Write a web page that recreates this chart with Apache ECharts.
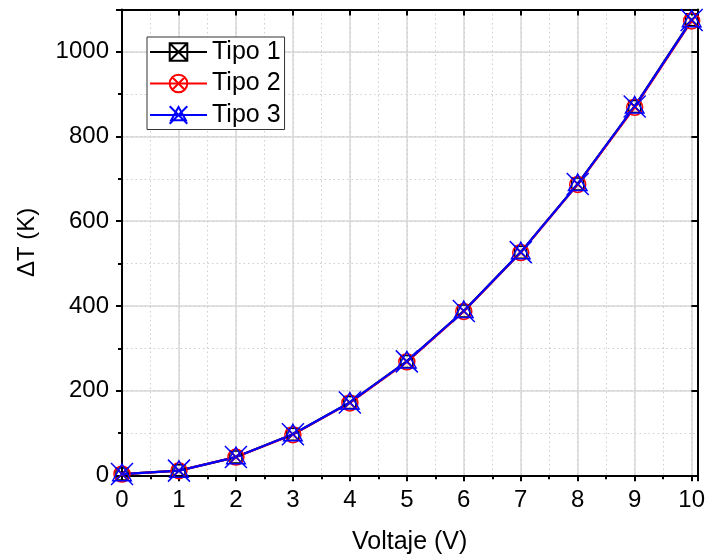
<!DOCTYPE html>
<html>
<head>
<meta charset="utf-8">
<script src="https://cdn.jsdelivr.net/npm/echarts@6/dist/echarts.min.js"></script>
<style>html,body{margin:0;padding:0;background:#fff}#c{width:708px;height:560px}</style>
</head>
<body>
<div id="c"></div>
<script>
const voltage = [0, 1, 2, 3, 4, 5, 6, 7, 8, 9, 10];
const tipo1 = [3, 11, 43, 97, 172, 269, 388, 527, 688, 871, 1076];
const tipo2 = [3, 11, 43, 96, 171, 268, 387, 526, 687, 869, 1073];
const tipo3 = [3, 11, 43, 97, 172, 269, 388, 527, 688, 871, 1075];
const seriesNames = ['Tipo 1', 'Tipo 2', 'Tipo 3'];
const xTitle = 'Voltaje (V)';
const yTitle = 'ΔT (K)';

const FONT = "'Liberation Sans', Arial, sans-serif";
const symSquareX = 'path://M0,0L10,0L10,10L0,10Z M0,0L10,10 M10,0L0,10';
const symCircleX = 'path://M0,5A5,5,0,1,1,10,5A5,5,0,1,1,0,5Z M1.46,1.46L8.54,8.54 M8.54,1.46L1.46,8.54';
const symStar = 'path://M5,0.5L9.2,8L0.8,8Z M0,0L10,10 M10,0L0,10';

const majorGrid = {show: true, lineStyle: {color: '#d8d8d8', width: 1.5, type: 'solid'}};
const minorGrid = {show: true, lineStyle: {color: '#cfcfcf', width: 1, type: [1.5, 3]}};
const frame = {show: true, onZero: false, lineStyle: {color: '#000', width: 2}};

function xAx(position, interval, tickLen, inside, labels, split, line) {
  return {
    type: 'value', min: 0, max: 10.1, interval: interval, position: position,
    axisLine: line ? frame : {show: false},
    axisTick: {show: true, inside: inside, length: tickLen, lineStyle: {color: '#000', width: 2}},
    axisLabel: labels ? {show: true, margin: 13, color: '#000', fontSize: 24, fontFamily: FONT,
      formatter: v => (Math.abs(v - Math.round(v)) < 1e-9 ? String(Math.round(v)) : '')} : {show: false},
    splitLine: split,
    name: labels ? xTitle : '', nameLocation: 'middle', nameGap: 54,
    nameTextStyle: {color: '#000', fontSize: 25, fontFamily: FONT}
  };
}
function yAx(position, interval, tickLen, inside, labels, split, line) {
  return {
    type: 'value', min: 0, max: 1100, interval: interval, position: position,
    axisLine: line ? frame : {show: false},
    axisTick: {show: true, inside: inside, length: tickLen, lineStyle: {color: '#000', width: 2}},
    axisLabel: labels ? {show: true, margin: 13, color: '#000', fontSize: 24, fontFamily: FONT,
      formatter: v => (v % 200 === 0 ? String(v) : '')} : {show: false},
    splitLine: split,
    name: labels ? yTitle : '', nameLocation: 'middle', nameGap: 83, nameRotate: 90,
    nameTextStyle: {color: '#000', fontSize: 24, fontFamily: FONT}
  };
}

function mk(name, data, color, symbol, size) {
  return {
    name: name, type: 'line', xAxisIndex: 0, yAxisIndex: 0,
    data: voltage.map((v, i) => [v, data[i]]),
    symbol: symbol, symbolSize: size, showAllSymbol: true,
    lineStyle: {color: color, width: 2.2},
    itemStyle: {color: 'rgba(0,0,0,0)', borderColor: color, borderWidth: 1.5},
    emphasis: {disabled: true}, animation: false, clip: false
  };
}

const chart = echarts.init(document.getElementById('c'), null, {renderer: 'canvas'});
chart.setOption({
  animation: false,
  backgroundColor: '#fff',
  grid: {left: 122, right: 9.5, top: 9.5, bottom: 84.7, containLabel: false},
  xAxis: [
    xAx('bottom', 1, 6, false, true, majorGrid, true),
    xAx('bottom', 0.5, 4, false, false, minorGrid, false),
    xAx('top', 1, 6, true, false, {show: false}, true),
    xAx('top', 0.5, 4, true, false, {show: false}, false)
  ],
  yAxis: [
    yAx('left', 200, 6, false, true, majorGrid, true),
    yAx('left', 100, 4, false, false, minorGrid, false),
    yAx('right', 200, 6, true, false, {show: false}, true),
    yAx('right', 100, 4, true, false, {show: false}, false)
  ],
  legend: {
    orient: 'vertical', left: 147, top: 37,
    data: seriesNames,
    itemWidth: 57, itemHeight: 22, itemGap: 6.5,
    padding: [2.5, 4, 2, 2],
    backgroundColor: '#fff', borderColor: '#333', borderWidth: 1,
    textStyle: {color: '#000', fontSize: 25, fontFamily: FONT},
    selectedMode: false
  },
  series: [
    mk(seriesNames[0], tipo1, '#000000', symSquareX, 12),
    mk(seriesNames[1], tipo2, '#ff0000', symCircleX, 16),
    mk(seriesNames[2], tipo3, '#0000ff', symStar, 22)
  ]
});
</script>
</body>
</html>
